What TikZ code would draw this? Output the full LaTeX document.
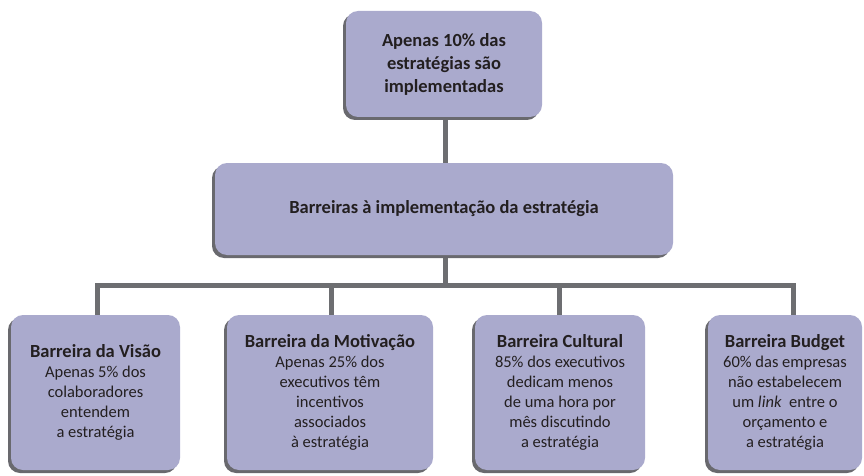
\documentclass[tikz,border=0pt]{standalone}
\usepackage{fontspec}
\setmainfont{Carlito}
\usetikzlibrary{shadows}
\definecolor{boxfill}{RGB}{170,170,205}
\definecolor{shadowc}{RGB}{105,105,110}
\definecolor{linec}{RGB}{109,110,113}
\definecolor{txt}{RGB}{35,31,32}
\tikzset{
  box/.style={draw=none, fill=boxfill, rounded corners=12pt, align=center,
    text=txt, inner sep=0pt,
    drop shadow={shadow xshift=-3pt, shadow yshift=-3pt, fill=shadowc, opacity=1}},
  lowbox/.style={box, minimum height=155pt, font=\fontsize{16.5}{20}\selectfont},
  conn/.style={draw=linec, line width=5pt},
}
\newcommand{\ttlt}[1]{{\fontsize{18.5}{20}\selectfont\bfseries #1}}
\begin{document}
\begin{tikzpicture}[x=1pt,y=-1pt]
\useasboundingbox (0,0) rectangle (864,476);
% connectors first (behind boxes)
\coordinate (hb) at (445,285);
\coordinate (h1) at (97,285);
\coordinate (h2) at (331,285);
\coordinate (h3) at (559,285);
\coordinate (h4) at (793,285);
\coordinate (topb) at (445,118);
\coordinate (midt) at (445,163);
\coordinate (midb) at (445,255);
\coordinate (bt) at (445,316);
\draw[conn] (topb) -- (midt);
\draw[conn] (midb) -- (hb);
\draw[conn] (h1 |- bt) -- (h1) -- (h4) -- (h4 |- bt);
\draw[conn] (h2) -- (h2 |- bt);
\draw[conn] (h3) -- (h3 |- bt);
% boxes
\node[box, minimum width=196pt, minimum height=106pt,
  font=\fontsize{18.5}{23}\selectfont\bfseries] (top) at (444,64)
  {Apenas 10\% das\\estratégias são\\implementadas};
\node[box, minimum width=458pt, minimum height=92pt,
  font=\fontsize{18.5}{22}\selectfont\bfseries] (mid) at (444,209)
  {Barreiras à implementação da estratégia};
\node[lowbox, minimum width=169pt] (b1) at (95.5,392.5)
  {\ttlt{Barreira da Visão}\\
   Apenas 5\% dos\\colaboradores\\entendem\\a estratégia};
\node[lowbox, minimum width=206pt] (b2) at (330,392.5)
  {\ttlt{Barreira da Motivação}\\
   Apenas 25\% dos\\executivos têm\\incentivos\\associados\\à estratégia};
\node[lowbox, minimum width=170pt] (b3) at (560,392.5)
  {\ttlt{Barreira Cultural}\\
   85\% dos executivos\\dedicam menos\\de uma hora por\\mês discutindo\\a estratégia};
\node[lowbox, minimum width=154pt] (b4) at (785,392.5)
  {\ttlt{Barreira Budget}\\
   60\% das empresas\\não estabelecem\\um \textit{link}\ \ entre o\\orçamento e\\a estratégia};
\end{tikzpicture}
\end{document}
